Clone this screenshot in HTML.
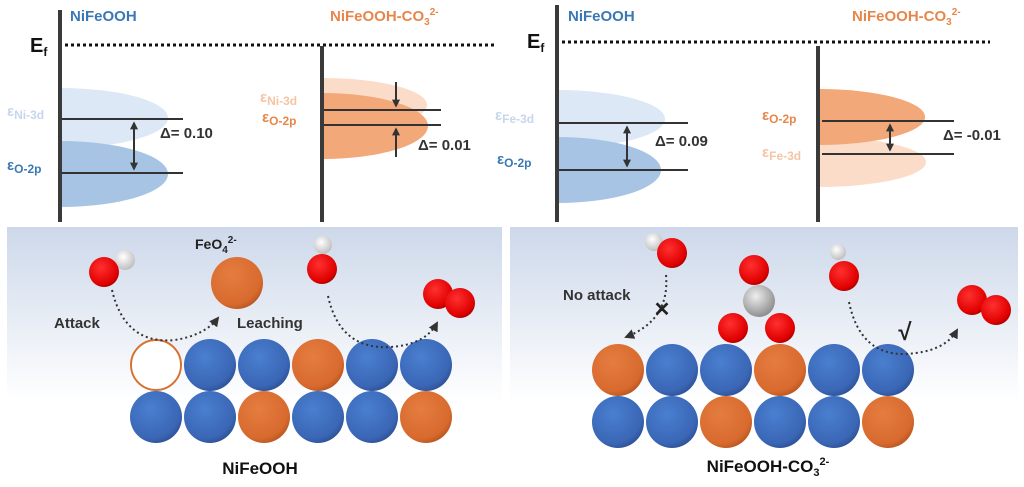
<!DOCTYPE html>
<html><head><meta charset="utf-8"><style>
body{margin:0;background:#fff}
svg{display:block;font-family:"Liberation Sans",sans-serif;font-weight:bold}
</style></head><body>
<svg width="1024" height="487" viewBox="0 0 1024 487" xmlns="http://www.w3.org/2000/svg">
<defs>
<linearGradient id="bg" x1="0" y1="0" x2="0" y2="1">
<stop offset="0" stop-color="#cdd8ea"/><stop offset="1" stop-color="#fff"/></linearGradient>
<radialGradient id="bl" cx="0.4" cy="0.35" r="0.7"><stop offset="0" stop-color="#4a7fd0"/><stop offset="0.8" stop-color="#3a66b5"/><stop offset="1" stop-color="#2c4f92"/></radialGradient>
<radialGradient id="or" cx="0.4" cy="0.35" r="0.7"><stop offset="0" stop-color="#e57d40"/><stop offset="0.8" stop-color="#d86a2e"/><stop offset="1" stop-color="#b55420"/></radialGradient>
<radialGradient id="rd" cx="0.4" cy="0.35" r="0.7"><stop offset="0" stop-color="#ff3030"/><stop offset="0.8" stop-color="#e00000"/><stop offset="1" stop-color="#a00000"/></radialGradient>
<radialGradient id="wh" cx="0.4" cy="0.35" r="0.7"><stop offset="0" stop-color="#fff"/><stop offset="1" stop-color="#bbb"/></radialGradient>
<radialGradient id="gr" cx="0.4" cy="0.35" r="0.7"><stop offset="0" stop-color="#eee"/><stop offset="1" stop-color="#888"/></radialGradient>
<marker id="ah" viewBox="0 0 10 10" refX="8" refY="5" markerWidth="5" markerHeight="5" orient="auto"><path d="M0,0L10,5L0,10z" fill="#333"/></marker>
<marker id="ah2" viewBox="0 0 10 10" refX="8" refY="5" markerWidth="4" markerHeight="4" orient="auto-start-reverse"><path d="M0,0L10,5L0,10z" fill="#333"/></marker>
</defs>

<!-- top left -->
<path d="M60,88 A108,30 0 0 1 60,148 Z" fill="#dce8f6"/>
<path d="M60,141 A108,33 0 0 1 60,207 Z" fill="#a7c4e4"/>
<line x1="60" y1="10" x2="60" y2="222" stroke="#3a3a3a" stroke-width="4"/>
<line x1="65" y1="45" x2="497" y2="45" stroke="#111" stroke-width="3" stroke-dasharray="3,3"/>
<text x="30" y="52" font-size="20" fill="#111">E<tspan font-size="12" dy="4">f</tspan></text>
<text x="70" y="21" font-size="15" fill="#3a78b5">NiFeOOH</text>
<line x1="62" y1="119" x2="183" y2="119" stroke="#333" stroke-width="2"/>
<line x1="62" y1="173" x2="183" y2="173" stroke="#333" stroke-width="2"/>
<line x1="134" y1="123" x2="134" y2="169" stroke="#333" stroke-width="2" marker-start="url(#ah2)" marker-end="url(#ah2)"/>
<text x="160" y="138" font-size="15" fill="#333">Δ= 0.10</text>
<text x="7" y="116" font-size="15" fill="#c6d7ec">ε<tspan font-size="12" dy="3">Ni-3d</tspan></text>
<text x="7" y="170" font-size="15" fill="#3a78b5">ε<tspan font-size="12" dy="3">O-2p</tspan></text>

<path d="M322,78 A105,27 0 0 1 322,132 Z" fill="#fbdcc8"/>
<path d="M322,93 A106,33 0 0 1 322,159 Z" fill="#f2a878"/>
<line x1="322" y1="46" x2="322" y2="222" stroke="#3a3a3a" stroke-width="4"/>
<text x="330" y="21" font-size="15" fill="#e8864a">NiFeOOH-CO<tspan font-size="10" dy="4">3</tspan><tspan font-size="10" dy="-10">2-</tspan></text>
<line x1="324" y1="110" x2="441" y2="110" stroke="#333" stroke-width="2"/>
<line x1="324" y1="125" x2="441" y2="125" stroke="#333" stroke-width="2"/>
<line x1="396" y1="82" x2="396" y2="106" stroke="#333" stroke-width="2" marker-end="url(#ah2)"/>
<line x1="396" y1="157" x2="396" y2="129" stroke="#333" stroke-width="2" marker-end="url(#ah2)"/>
<text x="418" y="150" font-size="15" fill="#333">Δ= 0.01</text>
<text x="260" y="102" font-size="15" fill="#f4c4a4">ε<tspan font-size="12" dy="3">Ni-3d</tspan></text>
<text x="262" y="122" font-size="15" fill="#e8864a">ε<tspan font-size="12" dy="3">O-2p</tspan></text>

<!-- top right -->
<path d="M557,90 A108,29 0 0 1 557,148 Z" fill="#dce8f6"/>
<path d="M557,137 A104,33 0 0 1 557,203 Z" fill="#a7c4e4"/>
<line x1="557" y1="5" x2="557" y2="222" stroke="#3a3a3a" stroke-width="4"/>
<line x1="562" y1="42" x2="990" y2="42" stroke="#111" stroke-width="3" stroke-dasharray="3,3"/>
<text x="527" y="48" font-size="20" fill="#111">E<tspan font-size="12" dy="4">f</tspan></text>
<text x="568" y="21" font-size="15" fill="#3a78b5">NiFeOOH</text>
<line x1="559" y1="123" x2="688" y2="123" stroke="#333" stroke-width="2"/>
<line x1="559" y1="170" x2="688" y2="170" stroke="#333" stroke-width="2"/>
<line x1="627" y1="127" x2="627" y2="166" stroke="#333" stroke-width="2" marker-start="url(#ah2)" marker-end="url(#ah2)"/>
<text x="655" y="146" font-size="15" fill="#333">Δ= 0.09</text>
<text x="495" y="120" font-size="15" fill="#c6d7ec">ε<tspan font-size="12" dy="3">Fe-3d</tspan></text>
<text x="497" y="164" font-size="15" fill="#3a78b5">ε<tspan font-size="12" dy="3">O-2p</tspan></text>

<path d="M818,137 A108,25 0 0 1 818,187 Z" fill="#fbdcc8"/>
<path d="M818,89 A107,28 0 0 1 818,145 Z" fill="#f2a878"/>
<line x1="818" y1="46" x2="818" y2="222" stroke="#3a3a3a" stroke-width="4"/>
<text x="852" y="21" font-size="15" fill="#e8864a">NiFeOOH-CO<tspan font-size="10" dy="4">3</tspan><tspan font-size="10" dy="-10">2-</tspan></text>
<line x1="822" y1="121" x2="954" y2="121" stroke="#333" stroke-width="2"/>
<line x1="822" y1="154" x2="954" y2="154" stroke="#333" stroke-width="2"/>
<line x1="890" y1="125" x2="890" y2="150" stroke="#333" stroke-width="2" marker-start="url(#ah2)" marker-end="url(#ah2)"/>
<text x="943" y="140" font-size="15" fill="#333">Δ= -0.01</text>
<text x="762" y="120" font-size="15" fill="#e8864a">ε<tspan font-size="12" dy="3">O-2p</tspan></text>
<text x="762" y="157" font-size="15" fill="#f4c4a4">ε<tspan font-size="12" dy="3">Fe-3d</tspan></text>

<!-- bottom panels -->
<rect x="7" y="227" width="495" height="175" fill="url(#bg)"/>
<rect x="510" y="227" width="508" height="175" fill="url(#bg)"/>

<!-- left atoms -->
<circle cx="156" cy="365" r="25" fill="#fff" stroke="#d8712f" stroke-width="2"/>
<circle cx="210" cy="365" r="26" fill="url(#bl)"/>
<circle cx="264" cy="365" r="26" fill="url(#bl)"/>
<circle cx="318" cy="365" r="26" fill="url(#or)"/>
<circle cx="372" cy="365" r="26" fill="url(#bl)"/>
<circle cx="426" cy="365" r="26" fill="url(#bl)"/>
<circle cx="156" cy="417" r="26" fill="url(#bl)"/>
<circle cx="210" cy="417" r="26" fill="url(#bl)"/>
<circle cx="264" cy="417" r="26" fill="url(#or)"/>
<circle cx="318" cy="417" r="26" fill="url(#bl)"/>
<circle cx="372" cy="417" r="26" fill="url(#bl)"/>
<circle cx="426" cy="417" r="26" fill="url(#or)"/>
<circle cx="237" cy="283" r="26" fill="url(#or)"/>
<text x="195" y="249" font-size="14" fill="#222">FeO<tspan font-size="10" dy="4">4</tspan><tspan font-size="10" dy="-10">2-</tspan></text>
<circle cx="125" cy="260" r="10" fill="url(#wh)"/>
<circle cx="104" cy="272" r="15" fill="url(#rd)"/>
<circle cx="323" cy="245" r="9" fill="url(#wh)"/>
<circle cx="322" cy="269" r="15" fill="url(#rd)"/>
<circle cx="438" cy="294" r="15" fill="url(#rd)"/>
<circle cx="460" cy="303" r="15" fill="url(#rd)"/>
<path d="M112,290 Q125,345 175,340 Q205,335 218,318" fill="none" stroke="#333" stroke-width="2" stroke-dasharray="2,3" marker-end="url(#ah)"/>
<path d="M328,296 Q340,350 390,347 Q425,345 437,323" fill="none" stroke="#333" stroke-width="2" stroke-dasharray="2,3" marker-end="url(#ah)"/>
<text x="54" y="328" font-size="15" fill="#333">Attack</text>
<text x="237" y="328" font-size="15" fill="#333">Leaching</text>
<text x="260" y="474" font-size="17" fill="#111" text-anchor="middle">NiFeOOH</text>

<!-- right atoms -->
<circle cx="618" cy="370" r="26" fill="url(#or)"/>
<circle cx="672" cy="370" r="26" fill="url(#bl)"/>
<circle cx="726" cy="370" r="26" fill="url(#bl)"/>
<circle cx="780" cy="370" r="26" fill="url(#or)"/>
<circle cx="834" cy="370" r="26" fill="url(#bl)"/>
<circle cx="888" cy="370" r="26" fill="url(#bl)"/>
<circle cx="618" cy="422" r="26" fill="url(#bl)"/>
<circle cx="672" cy="422" r="26" fill="url(#bl)"/>
<circle cx="726" cy="422" r="26" fill="url(#or)"/>
<circle cx="780" cy="422" r="26" fill="url(#bl)"/>
<circle cx="834" cy="422" r="26" fill="url(#bl)"/>
<circle cx="888" cy="422" r="26" fill="url(#or)"/>
<circle cx="654" cy="242" r="9" fill="url(#wh)"/>
<circle cx="672" cy="253" r="15" fill="url(#rd)"/>
<circle cx="754" cy="270" r="15" fill="url(#rd)"/>
<circle cx="759" cy="301" r="16" fill="url(#gr)"/>
<circle cx="733" cy="328" r="15" fill="url(#rd)"/>
<circle cx="780" cy="328" r="15" fill="url(#rd)"/>
<circle cx="838" cy="252" r="8" fill="url(#wh)"/>
<circle cx="844" cy="276" r="15" fill="url(#rd)"/>
<circle cx="972" cy="300" r="15" fill="url(#rd)"/>
<circle cx="996" cy="310" r="15" fill="url(#rd)"/>
<path d="M666,275 Q670,320 626,337" fill="none" stroke="#333" stroke-width="2" stroke-dasharray="2,3" marker-end="url(#ah)"/>
<path d="M849,302 Q860,355 905,354 Q945,352 957,330" fill="none" stroke="#333" stroke-width="2" stroke-dasharray="2,3" marker-end="url(#ah)"/>
<text x="563" y="300" font-size="15" fill="#333">No attack</text>
<text x="662" y="316" font-size="20" fill="#222" text-anchor="middle">✕</text>
<text x="905" y="340" font-size="24" fill="#222" text-anchor="middle">√</text>
<text x="768" y="472" font-size="17" fill="#111" text-anchor="middle">NiFeOOH-CO<tspan font-size="11" dy="4">3</tspan><tspan font-size="11" dy="-11">2-</tspan></text>
</svg>
</body></html>
